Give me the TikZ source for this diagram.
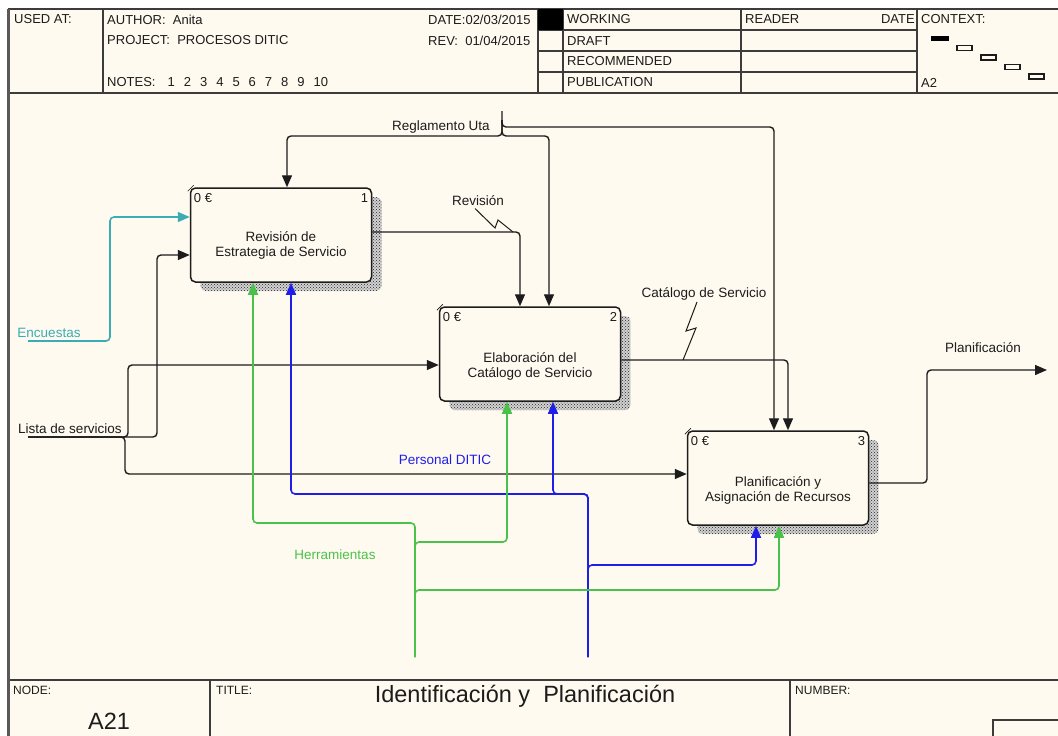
\documentclass[tikz,border=0pt]{standalone}
\usepackage{fontspec}
\setmainfont{Liberation Sans}
\usetikzlibrary{arrows.meta,patterns}
\definecolor{paper}{RGB}{255,250,239}
\definecolor{ink}{RGB}{28,28,28}
\definecolor{rule}{RGB}{60,60,60}
\definecolor{tealflow}{RGB}{58,172,180}
\definecolor{blueflow}{RGB}{30,30,232}
\definecolor{greenflow}{RGB}{74,194,74}
\newcommand{\fsz}[1]{\fontsize{#1}{#1}\selectfont}
\tikzset{
  lbl/.style={inner sep=0pt, text=ink, font=\fsz{13.5}},
  hdr/.style={inner sep=0pt, text=ink, font=\fsz{13}, anchor=west},
  small/.style={inner sep=0pt, text=ink, font=\fsz{12}, anchor=west},
  rulel/.style={draw=rule, line width=1.3pt},
  activity/.style={draw=ink, line width=1.5pt, fill=paper, rounded corners=5pt,
    minimum width=181pt, minimum height=94pt, inner sep=0pt},
  hatchbase/.style={fill=black!18, rounded corners=5pt},
  hatch/.style={pattern=crosshatch dots, pattern color=black!85, rounded corners=5pt},
  boxtext/.style={inner sep=0pt, text=ink, align=center, font=\fontsize{13.5}{15}\selectfont},
  flow/.style={draw=ink, line width=1.4pt, rounded corners=4pt},
  cflow/.style={line width=1.6pt, rounded corners=4pt},
  tip/.style={-{Triangle[length=12pt,width=10pt]}},
  bolt/.style={draw=ink, line width=1pt},
}
\begin{document}
\begin{tikzpicture}[x=1pt,y=-1pt]
\useasboundingbox (0,0) rectangle (1058,736);
% sheet
\fill[white] (0,0) rectangle (1058,736);
\fill[paper] (8,9) rectangle (1058,736);

% ---------- header block ----------
\draw[rulel] (8,9) -- (1058,9);
\draw[rulel] (8,93) -- (1058,93);
\foreach \xx in {103,538,563,741,917} \draw[rulel] (\xx,9) -- (\xx,93);
\foreach \yy in {30,51,72} \draw[rulel] (538,\yy) -- (917,\yy);
\fill[black] (538,9) rectangle (563,30);

\node[hdr] (usedat) at (14,19.5) {USED AT:};
\node[hdr] (author) at (107,19.5) {AUTHOR:\ \ Anita};
\node[hdr] (project) at (107,40.5) {PROJECT:\ \ PROCESOS DITIC};
\node[hdr] (notes) at (107,82.5) {NOTES:\hspace{12pt}1\hspace{9pt}2\hspace{9pt}3\hspace{9pt}4\hspace{9pt}5\hspace{9pt}6\hspace{9pt}7\hspace{9pt}8\hspace{9pt}9\hspace{9pt}10};
\node[hdr] (date) at (428,19.5) {DATE:02/03/2015};
\node[hdr] (rev) at (428,40.5) {REV:\ \ 01/04/2015};
\node[hdr] (working) at (567,19.5) {WORKING};
\node[hdr] (draft) at (567,41) {DRAFT};
\node[hdr] (recom) at (567,61.5) {RECOMMENDED};
\node[hdr] (public) at (567,82.5) {PUBLICATION};
\node[hdr] (reader) at (745,19.5) {READER};
\node[hdr, anchor=east] (rdate) at (915,19.5) {DATE};
\node[hdr] (context) at (921,19.5) {CONTEXT:};
\node[hdr] (ctxnode) at (921,83) {A2};
% context pictogram
\fill[black] (931,36) rectangle (949,41);
\foreach \k in {1,2,3,4}
  \draw[draw=ink, line width=1.2pt] ({957+24*(\k-1)},{45.5+9.5*(\k-1)}) rectangle ({972+24*(\k-1)},{50.5+9.5*(\k-1)});

% ---------- footer block ----------
\draw[rulel] (8,680) -- (1058,680);
\draw[rulel] (210,680) -- (210,736);
\draw[rulel] (790,680) -- (790,736);
\draw[rulel] (993,736) -- (993,720) -- (1058,720);
\node[small] (nodelbl) at (13,690) {NODE:};
\node[small] (titlelbl) at (216,690) {TITLE:};
\node[small] (numlbl) at (795,690) {NUMBER:};
\node[inner sep=0pt, text=ink, font=\fsz{23.5}] (nodeid) at (109,721) {A21};
\node[inner sep=0pt, text=ink, font=\fsz{23.5}] (title) at (525,696) {Identificación y\ \ Planificación};

% left border of the sheet
\draw[draw=rule!85, line width=2.6pt] (8.2,9) -- (8.2,736);

% ---------- activity boxes ----------
\foreach \ax/\ay in {200.5/197, 449.5/316, 697.5/440}{
  \fill[hatchbase] (\ax,\ay) rectangle ({\ax+181},{\ay+94});
  \fill[hatch] (\ax,\ay) rectangle ({\ax+181},{\ay+94});
}

\node[activity] (b1) at (281,235) {};
\node[activity] (b2) at (530,354) {};
\node[activity] (b3) at (778,478) {};

\foreach \b/\n in {b1/1,b2/2,b3/3}{
  \draw[draw=ink, line width=0.7pt] ([shift={(-2,4)}]\b.north west) -- ([shift={(4,-2)}]\b.north west);
  \node[lbl, anchor=west, font=\fsz{13}] at ([shift={(4,11)}]\b.north west) {0 €};
  \node[lbl, anchor=east, font=\fsz{13}] at ([shift={(-4,11)}]\b.north east) {\n};
}
\node[boxtext] (t1) at (281,245.5) {Revisión de\\Estrategia de Servicio};
\node[boxtext] (t2) at (530,366) {Elaboración del\\Catálogo de Servicio};
\node[boxtext] (t3) at (778,490) {Planificación y\\Asignación de Recursos};

% ---------- controls ----------
\coordinate (regsrc) at (502,111);
\draw[flow, tip] (regsrc) -- (502,127) -- (774,127) -- (b3.north -| 774,0);
\draw[flow, tip] (502,120) -- (502,136) -- (287,136) -- (b1.north -| 287,0);
\draw[flow, tip] (502,120) -- (502,136) -- (549,136) -- (b2.north -| 549,0);
\node[lbl] (reg) at (441,127.5) {Reglamento Uta};

\draw[flow, tip] (b1.east |- 0,232) -- (520,232) -- (b2.north -| 520,0);
\node[lbl] (revl) at (478,201) {Revisión};
\draw[bolt] (475,208.5) -- (495,228) -- (498,220) -- (513,232);

\draw[flow, tip] (b2.east |- 0,360) -- (788,360) -- (b3.north -| 788,0);
\node[lbl] (catl) at (704,294) {Catálogo de Servicio};
\draw[bolt] (697,302) -- (686,331) -- (696,328) -- (683,360);

% ---------- output ----------
\coordinate (planout) at (1047,370);
\draw[flow, tip] (b3.east |- 0,483) -- (927,483) -- (927,370) -- (planout);
\node[lbl] (planl) at (983,347.5) {Planificación};

% ---------- inputs ----------
\coordinate (encsrc) at (28,341);
\draw[cflow, draw=tealflow, tip] (encsrc) -- (110,341) -- (110,217) -- (b1.west |- 0,217);
\node[lbl, text=tealflow] (encl) at (49,333) {Encuestas};

\coordinate (lsrc) at (28,437);
\draw[flow, tip] (lsrc) -- (128,437) -- (128,365) -- (b2.west |- 0,365);
\draw[flow, tip] (lsrc) -- (157,437) -- (157,255) -- (b1.west |- 0,255);
\draw[flow, tip] (lsrc) -- (125,437) -- (125,474) -- (b3.west |- 0,474);
\node[lbl] (listl) at (70,428.5) {Lista de servicios};

% ---------- mechanisms ----------
\coordinate (persrc) at (588,657);
\draw[cflow, draw=blueflow, tip] (persrc) -- (588,494) -- (291,494) -- (b1.south -| 291,0);
\draw[cflow, draw=blueflow, tip] (persrc) -- (588,494) -- (553,494) -- (b2.south -| 553,0);
\draw[cflow, draw=blueflow, tip] (persrc) -- (588,565) -- (756,565) -- (b3.south -| 756,0);
\node[lbl, text=blueflow] (perl) at (445,460) {Personal DITIC};

\coordinate (toolsrc) at (415,657);
\draw[cflow, draw=greenflow, tip] (toolsrc) -- (415,523) -- (253,523) -- (b1.south -| 253,0);
\draw[cflow, draw=greenflow, tip] (toolsrc) -- (415,542) -- (507,542) -- (b2.south -| 507,0);
\draw[cflow, draw=greenflow, tip] (toolsrc) -- (415,590) -- (779,590) -- (b3.south -| 779,0);
\node[lbl, text=greenflow] (tooll) at (335,555) {Herramientas};
\end{tikzpicture}
\end{document}
